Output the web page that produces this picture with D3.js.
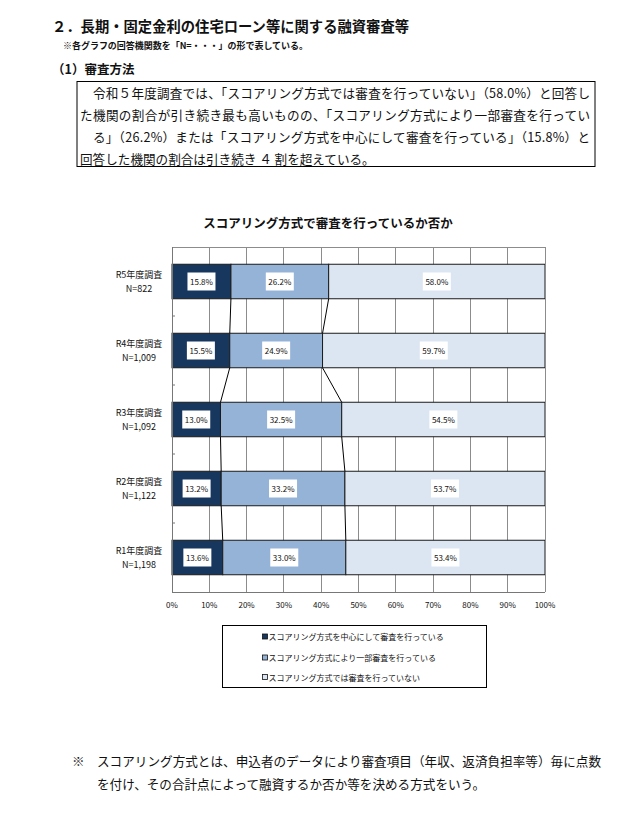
<!DOCTYPE html>
<html><head><meta charset="utf-8">
<script src="https://cdn.jsdelivr.net/npm/d3@7/dist/d3.min.js"></script>
<style>
html,body{margin:0;padding:0;background:#fff;}
svg{display:block;}
text{font-family:"Noto Sans CJK JP","Noto Sans",sans-serif;fill:#111;}
</style></head>
<body>
<script>
// ---- data ----
const categories = ["R5年度調査","R4年度調査","R3年度調査","R2年度調査","R1年度調査"];
const nLabels = ["N=822","N=1,009","N=1,092","N=1,122","N=1,198"];
const seriesNames = [
  "スコアリング方式を中心にして審査を行っている",
  "スコアリング方式により一部審査を行っている",
  "スコアリング方式では審査を行っていない"
];
const centered = [15.8,15.5,13.0,13.2,13.6];
const partial  = [26.2,24.9,32.5,33.2,33.0];
const none     = [58.0,59.7,54.5,53.7,53.4];
const tickLabels = ["0%","10%","20%","30%","40%","50%","60%","70%","80%","90%","100%"];
const tickValues = [0,10,20,30,40,50,60,70,80,90,100];
const colors = ["#17375e","#95b3d7","#dce6f2"];

const W=644,H=826;
const svg = d3.select("body").append("svg").attr("width",W).attr("height",H);

// ---- header texts ----
svg.append("text").attr("x",52).attr("y",25).attr("dominant-baseline","central")
  .attr("font-size",14.3).attr("font-weight","bold").attr("textLength",357).attr("lengthAdjust","spacing")
  .text("２．長期・固定金利の住宅ローン等に関する融資審査等");
svg.append("text").attr("x",63).attr("y",45).attr("dominant-baseline","central")
  .attr("font-size",9).attr("font-weight","bold").attr("textLength",245).attr("lengthAdjust","spacing")
  .text("※各グラフの回答機関数を「N=・・・」の形で表している。");
svg.append("text").attr("x",52).attr("y",68).attr("dominant-baseline","central")
  .attr("font-size",12.5).attr("font-weight","bold")
  .text("（1）審査方法");

svg.append("rect").attr("x",77).attr("y",81.5).attr("width",518).attr("height",85)
  .attr("fill","none").attr("stroke","#000").attr("stroke-width",1);
const boxLines = [
  {x:93, y:92, t:"令和５年度調査では、「スコアリング方式では審査を行っていない」（58.0%）と回答し", len:497},
  {x:80, y:114, t:"た機関の割合が引き続き最も高いものの、「スコアリング方式により一部審査を行ってい", len:510},
  {x:93, y:136, t:"る」（26.2%）または「スコアリング方式を中心にして審査を行っている」（15.8%）と", len:497},
  {x:80, y:158, t:"回答した機関の割合は引き続き ４ 割を超えている。", len:null}
];
boxLines.forEach(l=>{
  const t = svg.append("text").attr("x",l.x).attr("y",l.y).attr("dominant-baseline","central")
    .attr("font-size",12.6).attr("fill","#222").text(l.t);
  if(l.len) t.attr("textLength",l.len).attr("lengthAdjust","spacing");
});

// ---- chart ----
const x = d3.scaleLinear().domain([0,100]).range([172,545]);
const y = d3.scaleBand().domain(categories).range([247,592]).paddingInner(0.5).paddingOuter(0.25);

svg.append("text").attr("x",328).attr("y",222).attr("text-anchor","middle").attr("dominant-baseline","central")
  .attr("font-size",12.5).attr("font-weight","bold").attr("fill","#222")
  .text("スコアリング方式で審査を行っているか否か");

// gridlines
const g = svg.append("g");
g.selectAll("line.grid").data(tickValues.slice(1)).join("line")
  .attr("x1",d=>x(d)).attr("x2",d=>x(d)).attr("y1",247).attr("y2",592)
  .attr("stroke","#8c8c8c").attr("stroke-width",1).attr("shape-rendering","crispEdges");
svg.append("line").attr("x1",172).attr("x2",545).attr("y1",247).attr("y2",247)
  .attr("stroke","#8c8c8c").attr("shape-rendering","crispEdges");

// stacked data (normalized to 100%)
const rows = categories.map((c,i)=>{
  const vals=[centered[i],partial[i],none[i]];
  const tot=d3.sum(vals);
  let acc=0;
  return {cat:c, n:nLabels[i], segs: vals.map((v,k)=>{const s={k, v, x0:acc/tot*100, x1:(acc+v)/tot*100}; acc+=v; return s;})};
});

// connecting lines
for(let i=0;i<rows.length-1;i++){
  [0,1].forEach(k=>{
    svg.append("line")
      .attr("x1",x(rows[i].segs[k].x1)).attr("y1",y(rows[i].cat)+y.bandwidth())
      .attr("x2",x(rows[i+1].segs[k].x1)).attr("y2",y(rows[i+1].cat))
      .attr("stroke","#000").attr("stroke-width",1);
  });
}

// bars
const barG = svg.append("g").selectAll("g").data(rows).join("g");
barG.selectAll("rect").data(d=>d.segs.map(s=>({...s,cat:d.cat}))).join("rect")
  .attr("x",d=>x(d.x0)).attr("width",d=>x(d.x1)-x(d.x0))
  .attr("y",d=>y(d.cat)).attr("height",y.bandwidth())
  .attr("fill",d=>colors[d.k]).attr("stroke","#1a1a1a").attr("stroke-width",1);

// value labels
const lab = barG.selectAll("g.lab").data(d=>d.segs.map(s=>({...s,cat:d.cat}))).join("g")
  .attr("transform",d=>`translate(${x((d.x0+d.x1)/2)},${y(d.cat)+y.bandwidth()/2})`);
lab.append("rect").attr("x",-14).attr("y",-9).attr("width",28).attr("height",18).attr("fill","#fff");
lab.append("text").attr("text-anchor","middle").attr("dominant-baseline","central")
  .attr("font-size",8).attr("font-family","Arial, 'Liberation Sans', sans-serif")
  .text(d=>d.v.toFixed(1)+"%");

// axes lines
svg.append("line").attr("x1",172).attr("x2",172).attr("y1",247).attr("y2",592)
  .attr("stroke","#777").attr("shape-rendering","crispEdges");
svg.append("line").attr("x1",172).attr("x2",545).attr("y1",592).attr("y2",592)
  .attr("stroke","#777").attr("shape-rendering","crispEdges");
svg.append("line").attr("x1",545).attr("x2",545).attr("y1",247).attr("y2",592)
  .attr("stroke","#8c8c8c").attr("shape-rendering","crispEdges");
// band boundary ticks on left axis
const bounds = d3.range(categories.length+1).map(i=>247+i*y.step()*1 + (i===0?0:0));
svg.selectAll("line.bt").data(categories.slice(0,-1)).join("line")
  .attr("x1",172).attr("x2",175)
  .attr("y1",d=>y(d)+y.bandwidth()+y.step()*0.25).attr("y2",d=>y(d)+y.bandwidth()+y.step()*0.25)
  .attr("stroke","#777");

// x tick labels
svg.selectAll("text.xt").data(tickValues).join("text")
  .attr("x",d=>x(d)).attr("y",604).attr("text-anchor","middle").attr("dominant-baseline","central")
  .attr("font-size",8).attr("font-family","Arial, 'Liberation Sans', sans-serif")
  .text((d,i)=>tickLabels[i]);

// y labels
rows.forEach(r=>{
  const cy=y(r.cat)+y.bandwidth()/2;
  svg.append("text").attr("x",139).attr("y",cy-6.8).attr("text-anchor","middle").attr("dominant-baseline","central")
    .attr("font-size",9).text(r.cat);
  svg.append("text").attr("x",139).attr("y",cy+7).attr("text-anchor","middle").attr("dominant-baseline","central")
    .attr("font-size",9).attr("font-family","Arial, 'Liberation Sans', sans-serif").text(r.n);
});

// legend
svg.append("rect").attr("x",222.5).attr("y",625.5).attr("width",264).attr("height",62)
  .attr("fill","#fff").attr("stroke","#000");
const legY=[636.5,657.5,677];
seriesNames.forEach((s,i)=>{
  svg.append("rect").attr("x",262.5).attr("y",legY[i]-2.5).attr("width",5).attr("height",5)
    .attr("fill",colors[i]).attr("stroke","#111").attr("stroke-width",0.8);
  svg.append("text").attr("x",268.5).attr("y",legY[i]).attr("dominant-baseline","central")
    .attr("font-size",8).text(s);
});

// footnote
svg.append("text").attr("x",72).attr("y",760).attr("dominant-baseline","central")
  .attr("font-size",12.6).attr("fill","#222").text("※");
svg.append("text").attr("x",97).attr("y",760).attr("dominant-baseline","central")
  .attr("font-size",12.6).attr("fill","#222").attr("textLength",504).attr("lengthAdjust","spacing")
  .text("スコアリング方式とは、申込者のデータにより審査項目（年収、返済負担率等）毎に点数");
svg.append("text").attr("x",97).attr("y",783).attr("dominant-baseline","central")
  .attr("font-size",12.6).attr("fill","#222")
  .text("を付け、その合計点によって融資するか否か等を決める方式をいう。");
</script>
</body></html>
